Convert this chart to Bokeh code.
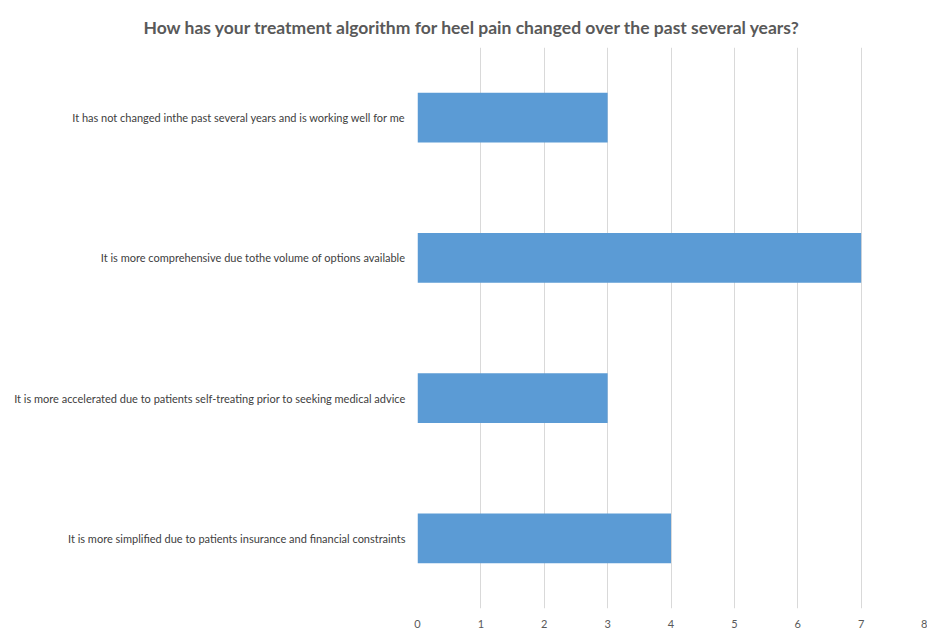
from bokeh.plotting import figure
from bokeh.models import FactorRange, Range1d, FixedTicker, Title
from bokeh.embed import file_html
from bokeh.resources import INLINE

categories = [
    "It has not changed inthe past several years and is working well for me",
    "It is more comprehensive due tothe volume of options available",
    "It is more accelerated due to patients self-treating prior to seeking medical advice",
    "It is more simplified due to patients insurance and financial constraints",
]
values = [3, 7, 3, 4]
x_ticks = [0, 1, 2, 3, 4, 5, 6, 7, 8]
title_text = "How has your treatment algorithm for heel pain changed over the past several years?"

W, H = 927, 630
p = figure(
    width=W, height=H,
    y_range=FactorRange(*reversed(categories), range_padding=0),
    x_range=Range1d(0, 8),
    output_backend="svg", toolbar_location=None,
    min_border_left=417, min_border_right=3,
    min_border_top=47, min_border_bottom=17,
)
p.title = None

p.hbar(y=categories, right=values, left=0, height=0.353,
       fill_color="#5b9bd5", line_color=None)

p.outline_line_color = None
p.ygrid.grid_line_color = None
p.xgrid.grid_line_color = "#d9d9d9"
p.xgrid.grid_line_width = 1
p.xaxis.ticker = FixedTicker(ticks=x_ticks)
p.xaxis.axis_line_color = None
p.xaxis.major_tick_line_color = None
p.xaxis.minor_tick_line_color = None
p.xaxis.major_tick_out = 0
p.xaxis.major_label_standoff = 11
p.xaxis.major_label_text_font = "Lato"
p.xaxis.major_label_text_font_size = "11px"
p.xaxis.major_label_text_color = "#595959"

p.yaxis.axis_line_color = None
p.yaxis.major_tick_line_color = None
p.yaxis.minor_tick_line_color = None
p.yaxis.major_tick_out = 0
p.yaxis.major_label_standoff = 12
p.yaxis.major_label_text_font = "Lato"
p.yaxis.major_label_text_font_size = "11px"
p.yaxis.major_label_text_color = "#404040"

t = Title(text=title_text, align="left", offset=-274,
          text_font="Lato", text_font_size="17.5px", text_font_style="bold",
          text_color="#595959", standoff=19)
p.add_layout(t, "above")

open("out.html", "w").write(file_html(p, INLINE))
